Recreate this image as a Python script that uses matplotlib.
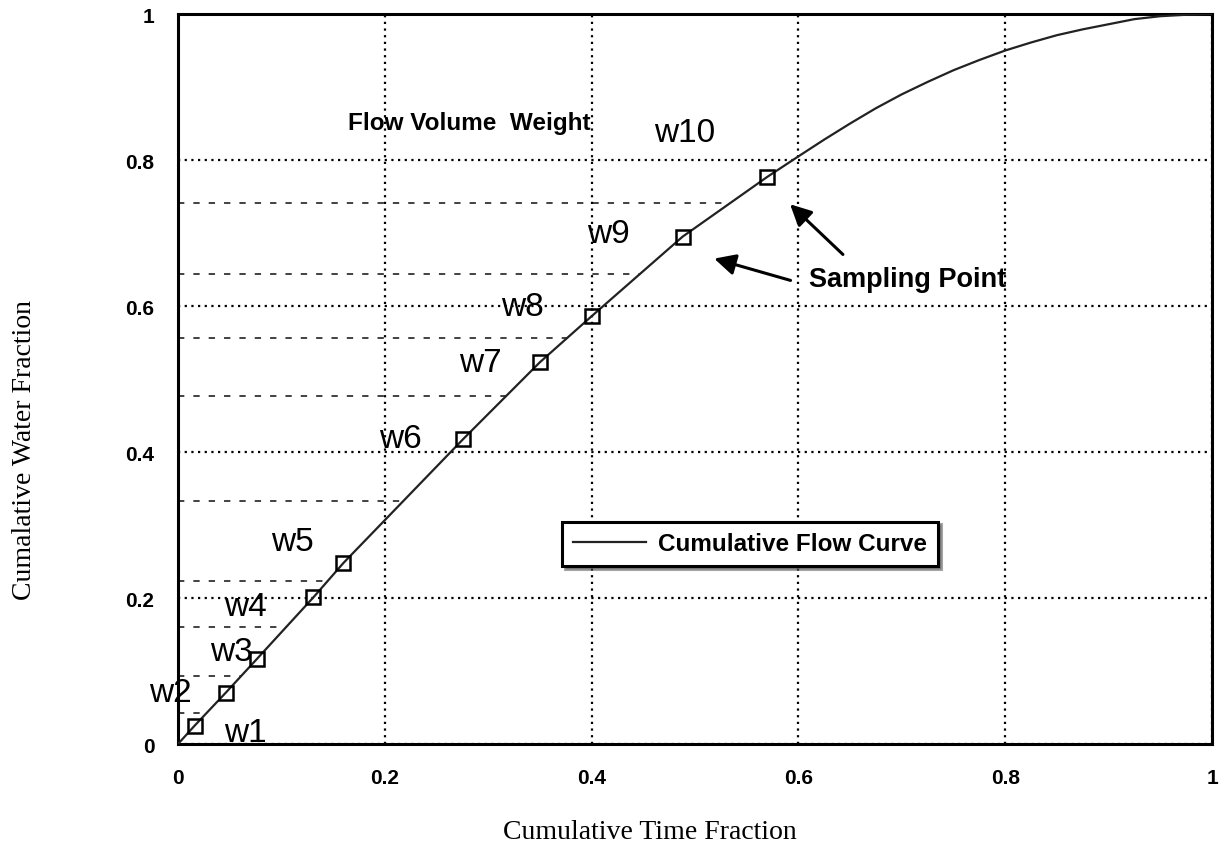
import matplotlib.pyplot as plt
import numpy as np

# sampling points on the cumulative flow curve
sample_x = np.array([0.016, 0.046, 0.076, 0.131, 0.160, 0.276, 0.350, 0.400, 0.488, 0.570])
sample_y = np.array([0.025, 0.070, 0.116, 0.201, 0.248, 0.418, 0.523, 0.586, 0.695, 0.777])

# rest of the curve after the last sample
tail_x = np.array([0.60, 0.625, 0.65, 0.675, 0.70, 0.725, 0.75, 0.775, 0.80,
                   0.825, 0.85, 0.875, 0.90, 0.925, 0.95, 0.975, 1.0])
tail_y = np.array([0.805, 0.828, 0.850, 0.871, 0.890, 0.907, 0.923, 0.937, 0.950,
                   0.961, 0.971, 0.979, 0.986, 0.993, 0.997, 0.999, 1.0])

# flow volume weight boundaries (dashed lines)
weight_bounds = [0.042, 0.093, 0.160, 0.223, 0.333, 0.477, 0.556, 0.644, 0.741]

weight_labels = ['w1', 'w2', 'w3', 'w4', 'w5', 'w6', 'w7', 'w8', 'w9', 'w10']
label_x = [0.065, -0.007, 0.052, 0.065, 0.111, 0.215, 0.292, 0.333, 0.416, 0.490]
label_y = [0.016, 0.071, 0.127, 0.189, 0.278, 0.418, 0.523, 0.599, 0.699, 0.838]

ticks = [0, 0.2, 0.4, 0.6, 0.8, 1]
tick_labels = ['0', '0.2', '0.4', '0.6', '0.8', '1']

curve_x = np.concatenate([[0], sample_x, tail_x])
curve_y = np.concatenate([[0], sample_y, tail_y])

sans = ['Liberation Sans', 'DejaVu Sans']
serif = ['Liberation Serif', 'DejaVu Serif']

fig = plt.figure(figsize=(12.25, 8.53), dpi=100)
ax = fig.add_axes([0.1453, 0.1266, 0.8441, 0.8558])

# grid and weight boundaries
ax.grid(True, linestyle=(0, (1, 2)), color='black', lw=1.6)
for b in weight_bounds:
    xe = np.interp(b, curve_y, curve_x)
    ax.plot([0, xe], [b, b], color='#333333', lw=1.3, linestyle=(0, (3.5, 5)), zorder=1)

ax.plot(curve_x, curve_y, color='#222222', lw=1.6, label='Cumulative Flow Curve', zorder=3)
ax.plot(sample_x, sample_y, 's', mfc='none', mec='black', mew=1.8, ms=9.5, zorder=4)

for lab, lx, ly in zip(weight_labels, label_x, label_y):
    ax.text(lx, ly, lab, fontsize=24, family=sans, ha='center', va='center', zorder=5)

ax.text(0.282, 0.852, 'Flow Volume  Weight', fontsize=17.5, fontweight='bold',
        family=sans, ha='center', va='center')
ax.text(0.706, 0.637, 'Sampling Point', fontsize=19.5, fontweight='bold',
        family=sans, ha='center', va='center')

arrow = dict(arrowstyle='-|>', color='black', lw=2.2, mutation_scale=32)
ax.annotate('', xy=(0.590, 0.742), xytext=(0.645, 0.668), arrowprops=arrow)
ax.annotate('', xy=(0.516, 0.666), xytext=(0.595, 0.634), arrowprops=arrow)

leg = ax.legend(loc='center', bbox_to_anchor=(0.553, 0.274), fancybox=False, shadow=True,
                handlelength=3, handletextpad=0.5, borderpad=0.45,
                prop={'family': sans, 'weight': 'bold', 'size': 17.5})
leg.get_frame().set_edgecolor('black')
leg.get_frame().set_linewidth(2.2)

ax.set_xlim(0, 1)
ax.set_ylim(0, 1)
ax.set_xticks(ticks)
ax.set_yticks(ticks)
ax.set_xticklabels(tick_labels, fontsize=15, fontweight='bold', family=sans)
ax.set_yticklabels(tick_labels, fontsize=15, fontweight='bold', family=sans)
ax.tick_params(length=0, pad=17)
for s in ax.spines.values():
    s.set_linewidth(2.2)

ax.set_xlabel('Cumulative Time Fraction', fontsize=20, family=serif)
ax.set_ylabel('Cumalative Water Fraction', fontsize=20, family=serif)
ax.xaxis.set_label_coords(0.456, -0.103)
ax.yaxis.set_label_coords(-0.136, 0.404)

fig.savefig('out.png', dpi=100)
